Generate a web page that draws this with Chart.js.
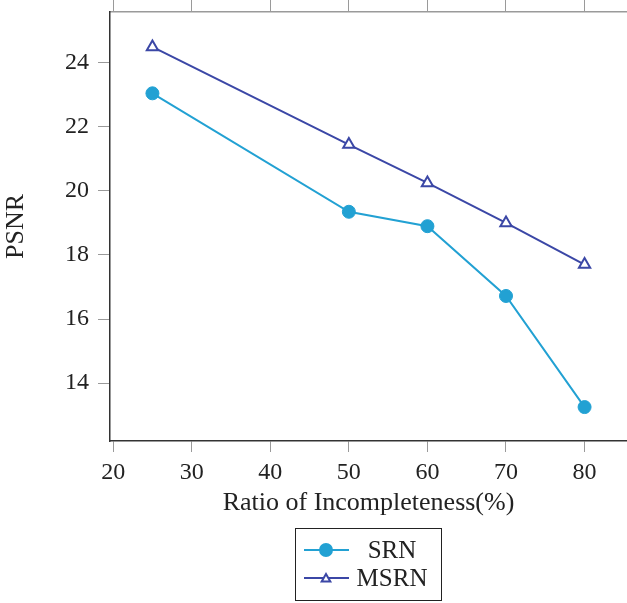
<!DOCTYPE html>
<html>
<head>
<meta charset="utf-8">
<script src="https://cdn.jsdelivr.net/npm/chart.js@4.4.1/dist/chart.umd.min.js"></script>
<style>
  html, body { margin: 0; padding: 0; background: #fff; }
  #wrap { width: 627px; height: 603px; position: relative; }
</style>
</head>
<body>
<div id="wrap"><canvas id="psnrChart" width="627" height="603"></canvas></div>
<script>
// ===== Datos =====
const ratios = [25, 50, 60, 70, 80];
const srnPsnr = [23.05, 19.35, 18.9, 16.72, 13.25];
const msrnPsnr = [24.5, 21.45, 20.25, 19.0, 17.7];
const xTicks = [20, 30, 40, 50, 60, 70, 80];
const yTicks = [14, 16, 18, 20, 22, 24];

const FONT = "'Liberation Serif', 'DejaVu Serif', serif";
const GRIS = '#9a9a9a';
const OSCURO = '#333333';
const C_SRN = '#22a1d3';
const C_MSRN = '#3b47a6';

// quita el relleno automático de las escalas
function sinPadding(s) {
  s.paddingTop = 0; s.paddingBottom = 0;
  s.paddingLeft = 0; s.paddingRight = 0;
}

// leyenda con recuadro, dibujada a mano
const legendBox = {
  id: 'legendBox',
  afterDraw(chart) {
    const ctx = chart.ctx;
    const ds = chart.data.datasets;
    ctx.save();
    ctx.strokeStyle = '#222';
    ctx.lineWidth = 1;
    ctx.strokeRect(295.5, 528.5, 146, 72);
    ds.forEach((d, i) => {
      const y = 550 + i * 28;
      ctx.strokeStyle = d.borderColor;
      ctx.lineWidth = 2;
      ctx.beginPath();
      ctx.moveTo(304, y);
      ctx.lineTo(349, y);
      ctx.stroke();
      ctx.fillStyle = d.pointBackgroundColor;
      ctx.strokeStyle = d.borderColor;
      Chart.helpers.drawPoint(ctx, {
        pointStyle: d.pointStyle,
        radius: i === 0 ? 6 : 5,
        borderWidth: d.pointBorderWidth
      }, 326, i === 0 ? y : y + 1);
      ctx.fillStyle = '#222';
      ctx.font = '25px ' + FONT;
      ctx.textAlign = 'center';
      ctx.textBaseline = 'middle';
      ctx.fillText(d.label, 392, y + 1);
    });
    ctx.restore();
  }
};

const ctx = document.getElementById('psnrChart').getContext('2d');
new Chart(ctx, {
  type: 'line',
  data: {
    datasets: [
      {
        label: 'SRN',
        data: ratios.map((x, i) => ({ x, y: srnPsnr[i] })),
        borderColor: C_SRN,
        backgroundColor: C_SRN,
        pointBackgroundColor: C_SRN,
        pointStyle: 'circle',
        pointRadius: 6.5,
        pointBorderWidth: 1,
        borderWidth: 2,
        tension: 0
      },
      {
        label: 'MSRN',
        data: ratios.map((x, i) => ({ x, y: msrnPsnr[i] })),
        borderColor: C_MSRN,
        backgroundColor: '#ffffff',
        pointBackgroundColor: '#ffffff',
        pointStyle: 'triangle',
        pointRadius: 6.5,
        pointBorderWidth: 2,
        borderWidth: 2,
        tension: 0
      }
    ]
  },
  options: {
    responsive: false,
    animation: false,
    layout: { autoPadding: false, padding: { top: 0, left: 0, right: 0, bottom: 82 } },
    plugins: {
      legend: { display: false },
      tooltip: { enabled: false }
    },
    scales: {
      x: {
        type: 'linear',
        position: 'bottom',
        min: 19.6,
        max: 85.4,
        afterBuildTicks: (s) => { s.ticks = xTicks.map(v => ({ value: v })); },
        afterFit: (s) => { s.height = 80; sinPadding(s); },
        grid: { drawOnChartArea: false, color: GRIS, tickLength: 11, tickColor: GRIS },
        border: { color: OSCURO, width: 1.5 },
        ticks: { color: '#222', font: { family: FONT, size: 24 }, padding: 6 },
        title: {
          display: true,
          text: 'Ratio of Incompleteness(%)',
          color: '#222',
          font: { family: FONT, size: 26 },
          padding: { top: 0, bottom: 2 }
        }
      },
      xTop: {
        type: 'linear',
        position: 'top',
        min: 19.6,
        max: 85.4,
        afterBuildTicks: (s) => { s.ticks = xTicks.map(v => ({ value: v })); },
        afterFit: (s) => { s.height = 12; sinPadding(s); },
        grid: { drawOnChartArea: false, color: GRIS, tickLength: 12, tickColor: GRIS },
        border: { color: GRIS, width: 1.5 },
        ticks: { display: false }
      },
      y: {
        type: 'linear',
        position: 'left',
        min: 12.19,
        max: 25.59,
        afterBuildTicks: (s) => { s.ticks = yTicks.map(v => ({ value: v })); },
        afterFit: (s) => { s.width = 110; sinPadding(s); },
        grid: { drawOnChartArea: false, color: GRIS, tickLength: 12, tickColor: GRIS },
        border: { color: OSCURO, width: 1.5 },
        ticks: { color: '#222', font: { family: FONT, size: 24 }, padding: 9 },
        title: {
          display: true,
          text: 'PSNR',
          color: '#222',
          font: { family: FONT, size: 26 },
          padding: { top: 1, bottom: 0 }
        }
      }
    }
  },
  plugins: [legendBox]
});
</script>
</body>
</html>
